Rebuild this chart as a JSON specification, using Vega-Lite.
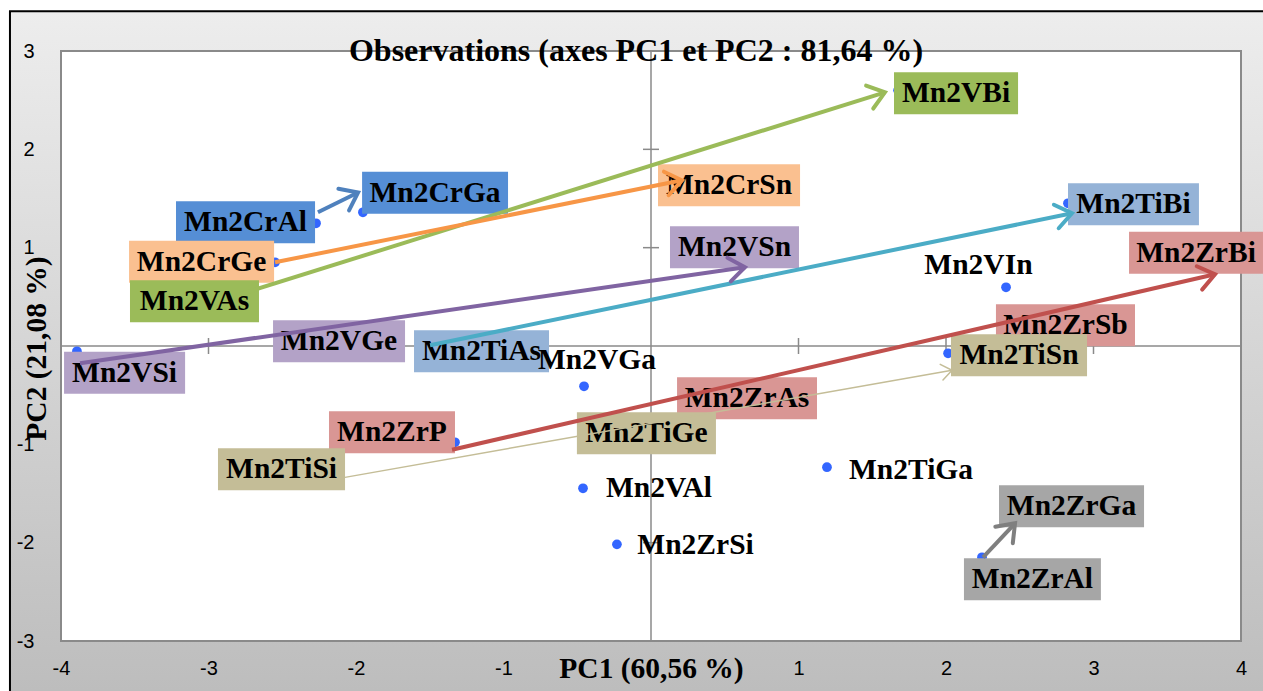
{
  "$schema": "https://vega.github.io/schema/vega-lite/v6.json",
  "width": 1180,
  "height": 590,
  "autosize": {"type": "none"},
  "padding": {"left": 61, "top": 51, "right": 22, "bottom": 50},
  "background": "white",
  "title": {
    "text": "Observations (axes PC1 et PC2 : 81,64 %)",
    "font": "Liberation Serif",
    "fontSize": 32,
    "fontWeight": "bold",
    "color": "black",
    "anchor": "middle",
    "frame": "group",
    "baseline": "alphabetic",
    "offset": -83,
    "dx": -15,
    "zindex": 1
  },
  "datasets": {
    "obs": [
      {"name": "Mn2CrAl", "pc1": -2.271, "pc2": 1.248, "lx": -2.749, "ly": 1.258, "group": "Mn2Cr-Al/Ga"},
      {"name": "Mn2CrGa", "pc1": -1.953, "pc2": 1.36, "lx": -1.464, "ly": 1.558, "group": "Mn2Cr-Al/Ga"},
      {"name": "Mn2CrGe", "pc1": -2.549, "pc2": 0.851, "lx": -3.047, "ly": 0.856, "group": "Mn2Cr-Ge/Sn"},
      {"name": "Mn2CrSn", "pc1": 0.231, "pc2": 1.665, "lx": 0.529, "ly": 1.634, "group": "Mn2Cr-Ge/Sn"},
      {"name": "Mn2VAs", "pc1": -2.807, "pc2": 0.485, "lx": -3.095, "ly": 0.455, "group": "Mn2V-As/Bi"},
      {"name": "Mn2VBi", "pc1": 1.675, "pc2": 2.6, "lx": 2.068, "ly": 2.57, "group": "Mn2V-As/Bi"},
      {"name": "Mn2VSi", "pc1": -3.892, "pc2": -0.054, "lx": -3.569, "ly": -0.273, "group": "Mn2V-Si/Ge/Sn"},
      {"name": "Mn2VGe", "pc1": -1.736, "pc2": 0.109, "lx": -2.115, "ly": 0.048, "group": "Mn2V-Si/Ge/Sn"},
      {"name": "Mn2VSn", "pc1": 0.637, "pc2": 0.872, "lx": 0.566, "ly": 1.004, "group": "Mn2V-Si/Ge/Sn"},
      {"name": "Mn2TiAs", "pc1": -1.498, "pc2": 0.007, "lx": -1.149, "ly": -0.054, "group": "Mn2Ti-As/Bi"},
      {"name": "Mn2TiBi", "pc1": 2.827, "pc2": 1.451, "lx": 3.271, "ly": 1.441, "group": "Mn2Ti-As/Bi"},
      {"name": "Mn2ZrP", "pc1": -1.329, "pc2": -0.979, "lx": -1.756, "ly": -0.878, "group": "Mn2Zr-P/As/Sb/Bi"},
      {"name": "Mn2ZrAs", "pc1": 0.332, "pc2": -0.552, "lx": 0.651, "ly": -0.532, "group": "Mn2Zr-P/As/Sb/Bi"},
      {"name": "Mn2ZrSb", "pc1": 2.434, "pc2": 0.16, "lx": 2.81, "ly": 0.211, "group": "Mn2Zr-P/As/Sb/Bi"},
      {"name": "Mn2ZrBi", "pc1": 3.72, "pc2": 0.85, "lx": 3.695, "ly": 0.948, "group": "Mn2Zr-P/As/Sb/Bi"},
      {"name": "Mn2TiSi", "pc1": -2.108, "pc2": -1.26, "lx": -2.505, "ly": -1.254, "group": "Mn2Ti-Si/Ge/Sn"},
      {"name": "Mn2TiGe", "pc1": -0.075, "pc2": -0.902, "lx": -0.031, "ly": -0.888, "group": "Mn2Ti-Si/Ge/Sn"},
      {"name": "Mn2TiSn", "pc1": 2.014, "pc2": -0.074, "lx": 2.495, "ly": -0.095, "group": "Mn2Ti-Si/Ge/Sn"},
      {"name": "Mn2ZrAl", "pc1": 2.244, "pc2": -2.149, "lx": 2.586, "ly": -2.373, "group": "Mn2Zr-Al/Ga"},
      {"name": "Mn2ZrGa", "pc1": 2.468, "pc2": -1.777, "lx": 2.851, "ly": -1.63, "group": "Mn2Zr-Al/Ga"},
      {"name": "Mn2VGa", "pc1": -0.454, "pc2": -0.41, "lx": -0.366, "ly": -0.145, "group": null},
      {"name": "Mn2VAl", "pc1": -0.461, "pc2": -1.447, "lx": 0.054, "ly": -1.447, "group": null},
      {"name": "Mn2ZrSi", "pc1": -0.231, "pc2": -2.017, "lx": 0.302, "ly": -2.027, "group": null},
      {"name": "Mn2TiGa", "pc1": 1.193, "pc2": -1.233, "lx": 1.763, "ly": -1.264, "group": null},
      {"name": "Mn2VIn", "pc1": 2.407, "pc2": 0.597, "lx": 2.22, "ly": 0.821, "group": null}
    ],
    "arrows": [
      {"group": "Mn2V-As/Bi", "x0": -2.807, "y0": 0.516, "x1": 1.586, "y1": 2.58},
      {"group": "Mn2Cr-Ge/Sn", "x0": -2.549, "y0": 0.851, "x1": 0.21, "y1": 1.685},
      {"group": "Mn2Cr-Al/Ga", "x0": -2.258, "y0": 1.36, "x1": -1.986, "y1": 1.561},
      {"group": "Mn2V-Si/Ge/Sn", "x0": -3.871, "y0": -0.176, "x1": 0.637, "y1": 0.801},
      {"group": "Mn2Ti-As/Bi", "x0": -1.498, "y0": 0.007, "x1": 2.854, "y1": 1.35},
      {"group": "Mn2Ti-Si/Ge/Sn", "x0": -2.075, "y0": -1.336, "x1": 2.041, "y1": -0.247},
      {"group": "Mn2Zr-P/As/Sb/Bi", "x0": -1.349, "y0": -1.055, "x1": 3.824, "y1": 0.729},
      {"group": "Mn2Zr-Al/Ga", "x0": 2.251, "y0": -2.149, "x1": 2.468, "y1": -1.803}
    ],
    "xticks": [{"v": -3}, {"v": -2}, {"v": -1}, {"v": 1}, {"v": 2}, {"v": 3}],
    "yticks": [{"v": -2}, {"v": -1}, {"v": 1}, {"v": 2}]
  },
  "layer": [
    {
      "data": {"values": [{}]},
      "mark": {
        "type": "rect",
        "fill": {"gradient": "linear", "x1": 0, "y1": 0, "x2": 0, "y2": 1,
          "stops": [{"offset": 0, "color": "#ededed"}, {"offset": 0.934, "color": "#bdbdbd"}, {"offset": 1, "color": "#b8b8b8"}]},
        "stroke": "black",
        "strokeWidth": 2
      },
      "encoding": {
        "x": {"datum": -4.346, "type": "quantitative", "scale": {"domain": [-4, 4], "nice": false, "zero": false}},
        "x2": {"datum": 5},
        "y": {"datum": 3.404, "type": "quantitative", "scale": {"domain": [-3, 3], "nice": false, "zero": false}},
        "y2": {"datum": -4}
      }
    },
    {
      "data": {"values": [{}]},
      "mark": {"type": "rect", "fill": "white", "stroke": "#8a8a8a", "strokeWidth": 2},
      "encoding": {
        "x": {"datum": -4, "type": "quantitative"},
        "x2": {"datum": 4},
        "y": {"datum": 3, "type": "quantitative"},
        "y2": {"datum": -3}
      }
    },
    {
      "data": {"values": [{}]},
      "mark": {"type": "rule", "color": "#8a8a8a", "strokeWidth": 1.5},
      "encoding": {"x": {"datum": 0, "type": "quantitative"}}
    },
    {
      "data": {"values": [{}]},
      "mark": {"type": "rule", "color": "#8a8a8a", "strokeWidth": 1.5},
      "encoding": {"y": {"datum": 0, "type": "quantitative"}}
    },
    {
      "data": {"name": "xticks"},
      "mark": {"type": "tick", "orient": "vertical", "color": "#8a8a8a", "thickness": 1.5, "size": 16, "opacity": 1},
      "encoding": {
        "x": {"field": "v", "type": "quantitative"},
        "y": {"datum": 0, "type": "quantitative"}
      }
    },
    {
      "data": {"name": "yticks"},
      "mark": {"type": "tick", "orient": "horizontal", "color": "#8a8a8a", "thickness": 1.5, "size": 16, "opacity": 1},
      "encoding": {
        "y": {"field": "v", "type": "quantitative"},
        "x": {"datum": 0, "type": "quantitative"}
      }
    },
    {
      "data": {"name": "obs"},
      "mark": {"type": "point", "filled": true, "color": "#3366ff", "size": 95, "opacity": 1},
      "encoding": {
        "x": {
          "field": "pc1", "type": "quantitative",
          "scale": {"domain": [-4, 4], "nice": false, "zero": false},
          "axis": {
            "zindex": 2,
            "values": [-4, -3, -2, -1, 0, 1, 2, 3, 4],
            "labelExpr": "datum.value == 0 ? '' : '' + datum.value",
            "labelFont": "Liberation Sans",
            "labelFontSize": 20,
            "labelColor": "black",
            "title": "PC1 (60,56 %)",
            "titleY": 27,
            "titleBaseline": "middle",
            "labelBaseline": "middle",
            "labelPadding": 27
          }
        },
        "y": {
          "field": "pc2", "type": "quantitative",
          "scale": {"domain": [-3, 3], "nice": false, "zero": false},
          "axis": {
            "zindex": 2,
            "values": [-3, -2, -1, 0, 1, 2, 3],
            "labelExpr": "datum.value == 0 ? '' : '' + datum.value",
            "labelFont": "Liberation Sans",
            "labelFontSize": 20,
            "labelColor": "black",
            "title": "PC2 (21,08 %)",
            "titleX": -25,
            "titleY": 297,
            "titleBaseline": "middle",
            "titleAngle": -90,
            "labelPadding": 27
          }
        }
      }
    },
    {
      "data": {"name": "obs"},
      "transform": [{"filter": "datum.group != null"}],
      "mark": {"type": "point", "filled": true, "size": 22500, "opacity": 1, "strokeWidth": 0},
      "encoding": {
        "x": {"field": "lx", "type": "quantitative"},
        "y": {"field": "ly", "type": "quantitative"},
        "shape": {
          "field": "name", "type": "nominal", "legend": null,
          "scale": {
            "domain": ["Mn2CrAl", "Mn2CrGa", "Mn2CrGe", "Mn2CrSn", "Mn2VAs", "Mn2VBi", "Mn2VSi", "Mn2VGe", "Mn2VSn", "Mn2TiAs", "Mn2TiBi", "Mn2ZrP", "Mn2ZrAs", "Mn2ZrSb", "Mn2ZrBi", "Mn2TiSi", "Mn2TiGe", "Mn2TiSn", "Mn2ZrAl", "Mn2ZrGa"],
            "range": [
              "M-0.927,-0.28H0.927V0.28H-0.927Z",
              "M-0.973,-0.28H0.973V0.28H-0.973Z",
              "M-0.967,-0.28H0.967V0.28H-0.967Z",
              "M-0.947,-0.28H0.947V0.28H-0.947Z",
              "M-0.86,-0.28H0.86V0.28H-0.86Z",
              "M-0.827,-0.28H0.827V0.28H-0.827Z",
              "M-0.807,-0.28H0.807V0.28H-0.807Z",
              "M-0.88,-0.28H0.88V0.28H-0.88Z",
              "M-0.86,-0.28H0.86V0.28H-0.86Z",
              "M-0.9,-0.28H0.9V0.28H-0.9Z",
              "M-0.873,-0.28H0.873V0.28H-0.873Z",
              "M-0.84,-0.28H0.84V0.28H-0.84Z",
              "M-0.933,-0.28H0.933V0.28H-0.933Z",
              "M-0.927,-0.28H0.927V0.28H-0.927Z",
              "M-0.893,-0.28H0.893V0.28H-0.893Z",
              "M-0.847,-0.28H0.847V0.28H-0.847Z",
              "M-0.927,-0.28H0.927V0.28H-0.927Z",
              "M-0.907,-0.28H0.907V0.28H-0.907Z",
              "M-0.913,-0.28H0.913V0.28H-0.913Z",
              "M-0.967,-0.28H0.967V0.28H-0.967Z"
            ]
          }
        },
        "fill": {
          "field": "group", "type": "nominal", "legend": null,
          "scale": {
            "domain": ["Mn2Cr-Al/Ga", "Mn2Cr-Ge/Sn", "Mn2V-As/Bi", "Mn2V-Si/Ge/Sn", "Mn2Ti-As/Bi", "Mn2Zr-P/As/Sb/Bi", "Mn2Ti-Si/Ge/Sn", "Mn2Zr-Al/Ga"],
            "range": ["#558ed5", "#fac090", "#9bbb59", "#b3a2c7", "#95b3d7", "#d99694", "#c4bd97", "#a6a6a6"]
          }
        }
      }
    },
    {
      "data": {"name": "obs"},
      "mark": {"type": "text", "font": "Liberation Serif", "fontSize": 29.5, "fontWeight": "bold", "color": "black", "align": "center", "baseline": "middle"},
      "encoding": {
        "x": {"field": "lx", "type": "quantitative"},
        "y": {"field": "ly", "type": "quantitative"},
        "text": {"field": "name", "type": "nominal"}
      }
    },
    {
      "data": {"name": "arrows"},
      "mark": {"type": "rule", "strokeCap": "butt"},
      "encoding": {
        "x": {"field": "x0", "type": "quantitative"},
        "y": {"field": "y0", "type": "quantitative"},
        "x2": {"field": "x1"},
        "y2": {"field": "y1"},
        "stroke": {
          "field": "group", "type": "nominal", "legend": null,
          "scale": {
            "domain": ["Mn2Cr-Al/Ga", "Mn2Cr-Ge/Sn", "Mn2V-As/Bi", "Mn2V-Si/Ge/Sn", "Mn2Ti-As/Bi", "Mn2Zr-P/As/Sb/Bi", "Mn2Ti-Si/Ge/Sn", "Mn2Zr-Al/Ga"],
            "range": ["#4f81bd", "#f79646", "#9bbb59", "#8064a2", "#4bacc6", "#c0504d", "#c4bd97", "#7f7f7f"]
          }
        },
        "strokeWidth": {"condition": {"test": "datum.group == 'Mn2Ti-Si/Ge/Sn'", "value": 1.5}, "value": 4}
      }
    },
    {
      "data": {"name": "arrows"},
      "mark": {"type": "point", "filled": false, "opacity": 1, "shape": "M-1,-0.75L0,0L-1,0.75", "strokeCap": "round", "strokeJoin": "miter"},
      "encoding": {
        "x": {"field": "x1", "type": "quantitative"},
        "y": {"field": "y1", "type": "quantitative"},
        "stroke": {"field": "group", "type": "nominal", "legend": null},
        "strokeWidth": {"condition": {"test": "datum.group == 'Mn2Ti-Si/Ge/Sn'", "value": 1.5}, "value": 4},
        "size": {"condition": {"test": "datum.group == 'Mn2Ti-Si/Ge/Sn'", "value": 450}, "value": 1024},
        "angle": {
          "condition": [
            {"test": "datum.group == 'Mn2Cr-Al/Ga'", "value": -26.3},
            {"test": "datum.group == 'Mn2Cr-Ge/Sn'", "value": -11.4},
            {"test": "datum.group == 'Mn2V-As/Bi'", "value": -17.4},
            {"test": "datum.group == 'Mn2V-Si/Ge/Sn'", "value": -8.2},
            {"test": "datum.group == 'Mn2Ti-As/Bi'", "value": -11.6},
            {"test": "datum.group == 'Mn2Zr-P/As/Sb/Bi'", "value": -12.95},
            {"test": "datum.group == 'Mn2Ti-Si/Ge/Sn'", "value": -10.0},
            {"test": "datum.group == 'Mn2Zr-Al/Ga'", "value": -46.7}
          ],
          "value": 0
        }
      }
    }
  ],
  "config": {
    "view": {"stroke": null},
    "axis": {
      "domain": false,
      "ticks": false,
      "tickSize": 0,
      "grid": false,
      "labelFont": "Liberation Sans",
      "labelFontSize": 20,
      "labelColor": "black",
      "labelFlush": false,
      "labelOverlap": false,
      "titleFont": "Liberation Serif",
      "titleFontSize": 29.5,
      "titleFontWeight": "bold",
      "titleColor": "black"
    }
  }
}
